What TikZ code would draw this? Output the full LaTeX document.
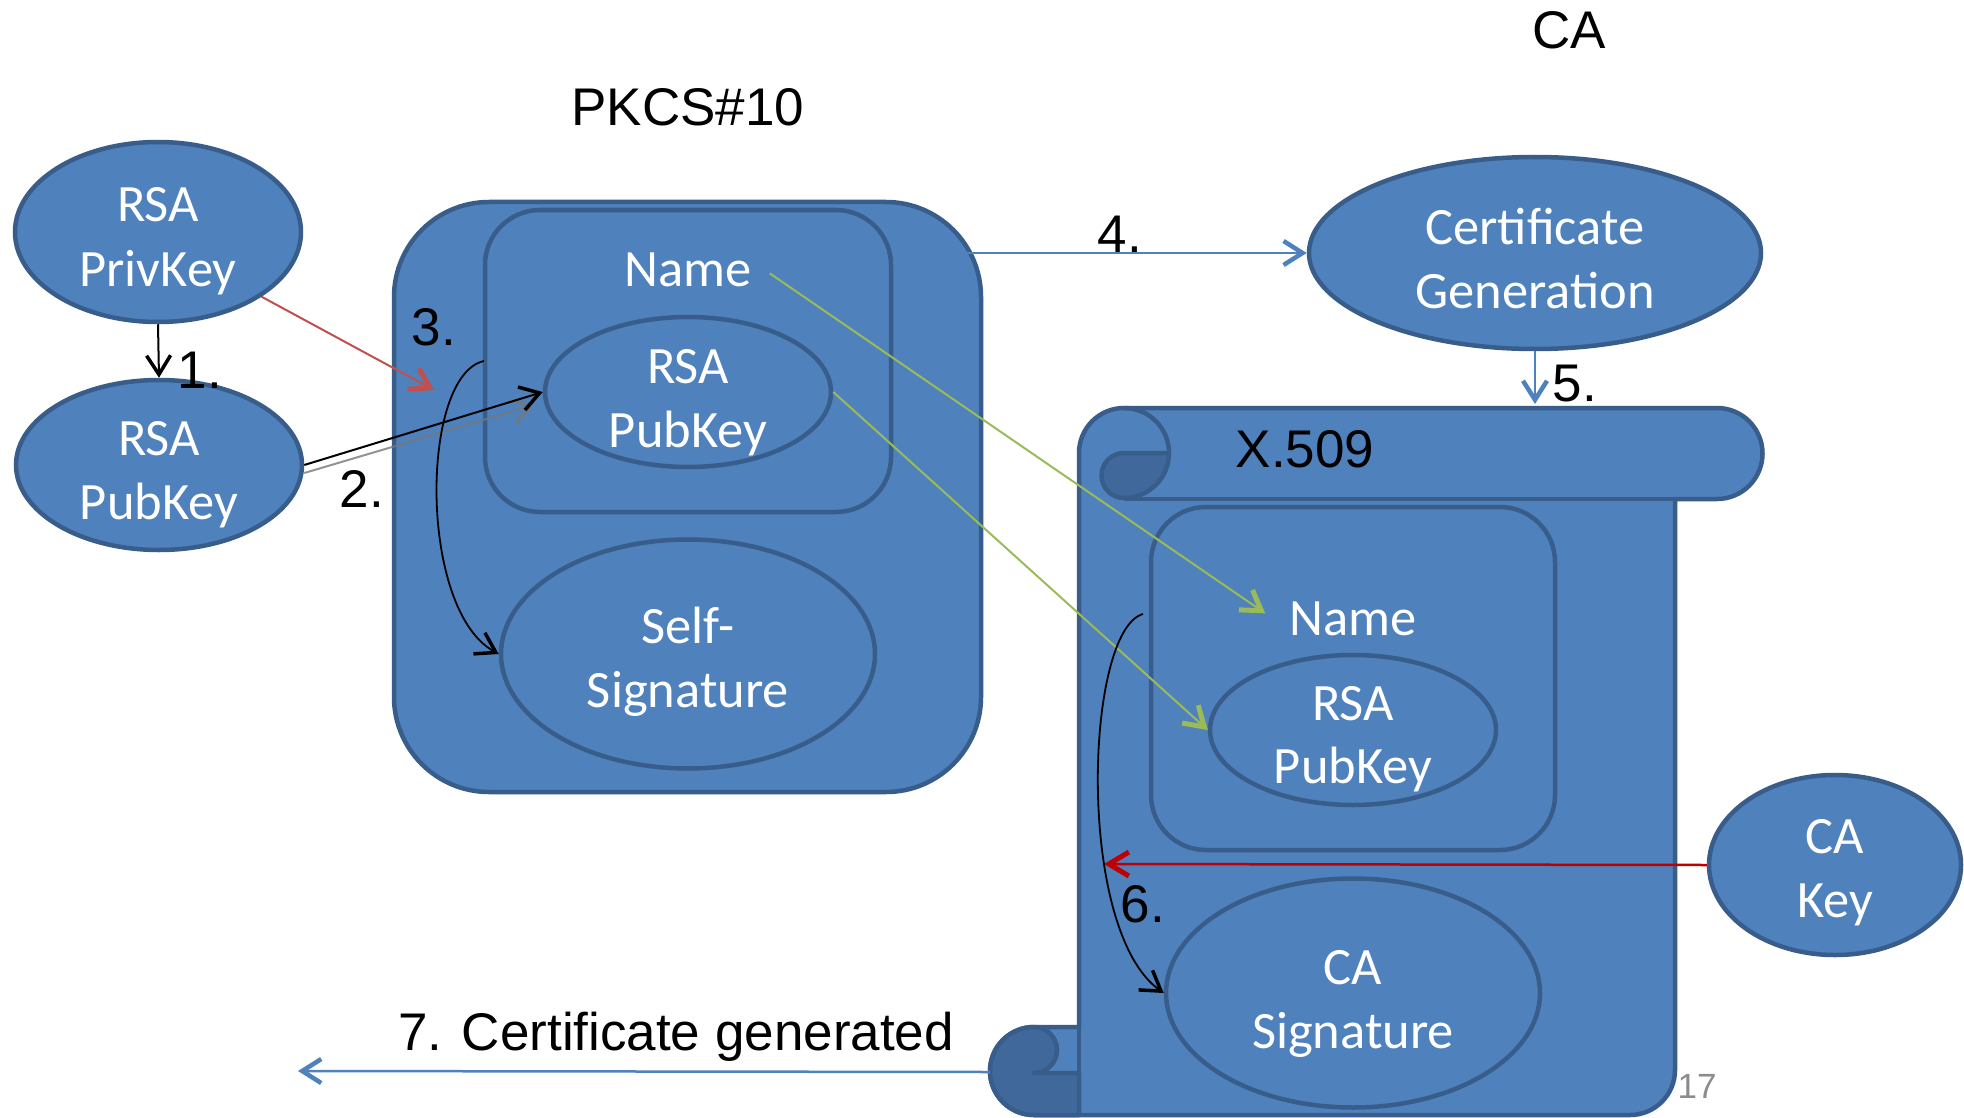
\documentclass[tikz,border=0pt]{standalone}
\usepackage{fontspec}
\setmainfont{Liberation Sans}
\newfontfamily\calfont{Carlito}
\usetikzlibrary{shapes.geometric,arrows.meta,calc}

\definecolor{boxfill}{RGB}{79,129,189}
\definecolor{boxline}{RGB}{56,93,138}
\definecolor{curlfill}{RGB}{64,104,154}
\definecolor{keyred}{RGB}{192,80,77}
\definecolor{careed}{RGB}{192,0,0}
\definecolor{linkgreen}{RGB}{155,187,89}
\definecolor{pagegray}{RGB}{140,140,140}
\definecolor{shadowgray}{RGB}{120,120,120}

\begin{document}
\begin{tikzpicture}[x=1pt,y=-1pt,
  panel/.style={fill=boxfill, draw=boxline, line width=4.5pt},
  keyell/.style={ellipse, panel, inner sep=0pt},
  wtxt/.style={anchor=base, text=white, inner sep=0pt,
    font=\calfont\fontsize{52.5}{63}\selectfont},
  btxt/.style={anchor=base, text=black, inner sep=0pt,
    font=\fontsize{53}{64}\selectfont},
  blkarrow/.style={draw=black, line width=2pt,
    -{Straight Barb[length=19pt,width=24pt,line width=3.5pt]}},
  thinarrow/.style={draw=black, line width=1.8pt,
    -{Straight Barb[length=19pt,width=24pt,line width=3.5pt]}},
  shadowarrow/.style={draw=shadowgray, line width=2pt,
    -{Straight Barb[length=19pt,width=24pt,line width=3.5pt]}},
  bluearrow/.style={draw=boxfill, line width=2.5pt,
    -{Straight Barb[length=19pt,width=24pt,line width=4.5pt]}},
  redarrow/.style={draw=keyred, line width=2pt,
    -{Straight Barb[length=19pt,width=24pt,line width=5pt]}},
  caarrow/.style={draw=careed, line width=2.5pt,
    -{Straight Barb[length=20pt,width=24pt,line width=5pt]}},
  greenarrow/.style={draw=linkgreen, line width=2pt,
    -{Straight Barb[length=19pt,width=24pt,line width=5pt]}}
]
\useasboundingbox (0,0) rectangle (1964,1118);
\fill[white] (0,0) rectangle (1964,1118);

% ---------- key pair ----------
\node[keyell, minimum width=286pt, minimum height=180pt] (priv) at (158,232) {};
\node[wtxt] (privA) at ($(priv)+(0,-10)$) {RSA};
\node[wtxt] (privB) at ($(priv)+(0,54)$) {PrivKey};

\node[keyell, minimum width=286pt, minimum height=170pt] (pubL) at (159,465) {};
\node[wtxt] (pubLA) at ($(pubL)+(0,-10)$) {RSA};
\node[wtxt] (pubLB) at ($(pubL)+(0,54)$) {PubKey};

% ---------- PKCS#10 request ----------
\draw[panel, rounded corners=95pt] (394,202) rectangle (981,792);
\draw[panel, rounded corners=55pt] (485,210) rectangle (891,512);
\node[wtxt] (pkName) at (688,286) {Name};
\node[keyell, minimum width=286pt, minimum height=150pt] (pkPub) at (688,392) {};
\node[wtxt] (pkPubA) at ($(pkPub)+(0,-9)$) {RSA};
\node[wtxt] (pkPubB) at ($(pkPub)+(0,55)$) {PubKey};
\node[keyell, minimum width=374pt, minimum height=229pt] (ssig) at (688,654) {};
\node[wtxt] (ssigA) at ($(ssig)+(0,-11)$) {Self-};
\node[wtxt] (ssigB) at ($(ssig)+(0,53)$) {Signature};

% ---------- CA ----------
\node[keyell, minimum width=452pt, minimum height=192pt] (cert) at (1535,253) {};
\node[wtxt] (certA) at ($(cert)+(0,-9)$) {Certificate};
\node[wtxt] (certB) at ($(cert)+(0,55)$) {Generation};

% ---------- X.509 scroll ----------
\draw[panel, line join=round]
  (1079,1027) -- (1079,453) arc[start angle=180, end angle=270, radius=45]
  -- (1717,408) arc[start angle=270, end angle=450, radius=45.5]
  -- (1675,499) -- (1675,1070) arc[start angle=0, end angle=90, radius=45]
  -- (1034,1115) arc[start angle=90, end angle=270, radius=44] -- cycle;
\draw[draw=boxline, line width=4.5pt] (1124,499) -- (1675,499);
\draw[draw=boxline, line width=4.5pt] (1079,1027) -- (1079,1073);
\draw[draw=boxline, line width=4.5pt] (1124,408) arc[start angle=270, end angle=360, radius=45];
% top curl
\draw[fill=curlfill, draw=boxline, line width=4.5pt, line join=round]
  (1124,453) -- (1169,453) arc[start angle=0, end angle=90, radius=45]
  arc[start angle=90, end angle=270, radius=22.5] -- cycle;
% bottom curl
\draw[fill=curlfill, draw=boxline, line width=4.5pt, line join=round]
  (1034,1027) arc[start angle=270, end angle=90, radius=44]
  -- (1079,1115) -- (1079,1073) -- (1034,1073)
  arc[start angle=90, end angle=-90, radius=23] -- cycle;

\draw[panel, rounded corners=55pt] (1151,507) rectangle (1555,850);
\node[wtxt] (xName) at (1353,635) {Name};
\node[keyell, minimum width=286pt, minimum height=150pt] (xPub) at (1353,730) {};
\node[wtxt] (xPubA) at ($(xPub)+(0,-10)$) {RSA};
\node[wtxt] (xPubB) at ($(xPub)+(0,53)$) {PubKey};
\node[keyell, minimum width=374pt, minimum height=229pt] (casig) at (1353,993) {};
\node[wtxt] (casigA) at ($(casig)+(0,-9)$) {CA};
\node[wtxt] (casigB) at ($(casig)+(0,55)$) {Signature};

\node[keyell, minimum width=252pt, minimum height=180pt] (cakey) at (1835,865) {};
\node[wtxt] (cakeyA) at ($(cakey)+(0,-12)$) {CA};
\node[wtxt] (cakeyB) at ($(cakey)+(0,52)$) {Key};

% ---------- connectors ----------
\coordinate (redEnd) at (434,390);
\coordinate (c3s) at (484,361);
\coordinate (a4s) at (922,253);
\coordinate (a5e) at (1535,404);
\coordinate (c6s) at (1143,614);
\coordinate (caEnd) at (1104,864);
\coordinate (curlL) at (990,1072);
\coordinate (a7e) at (298,1071);

\draw[blkarrow] (priv.south) -- (pubL.north);
\draw[redarrow] (priv.-32) -- (redEnd);
\draw[shadowarrow, opacity=0.8] ($(pubL.east)+(0,8)$) -- ($(pkPub.west)+(-9,13)$);
\draw[blkarrow] (pubL.east) -- (pkPub.west);
\draw[thinarrow] (c3s) .. controls (420,375) and (418,610) .. (ssig.west);
\draw[bluearrow] (a4s) -- (cert.west);
\draw[bluearrow] (cert.south) -- (a5e);
\draw[greenarrow] ($(pkName.east)+(18,4)$) -- ($(xName.west)+(-24,-5)$);
\draw[greenarrow] (pkPub.east) -- (xPub.west);
\draw[caarrow] (cakey.west) -- (caEnd);
\draw[thinarrow] (c6s) .. controls (1085,630) and (1075,930) .. (casig.west);
\draw[bluearrow] (curlL) -- (a7e);

% ---------- labels ----------
\node[btxt] (lblPkcs) at (688,126) {PKCS\#10};
\node[btxt] (lblCA) at (1569,49) {CA};
\node[btxt] (lblX) at (1305,467) {X.509};
\node[btxt] (n1) at (200,388) {1.};
\node[btxt] (n2) at (362,507) {2.};
\node[btxt] (n3) at (434,345) {3.};
\node[btxt] (n4) at (1120,252) {4.};
\node[btxt] (n5) at (1575,401) {5.};
\node[btxt] (n6) at (1143,922) {6.};
\node[btxt] (n7) at (676,1050) {7. Certificate generated};
\node[anchor=base, inner sep=0pt, text=pagegray, font=\fontsize{35}{42}\selectfont] (pg) at (1697,1098) {17};
\end{tikzpicture}
\end{document}
